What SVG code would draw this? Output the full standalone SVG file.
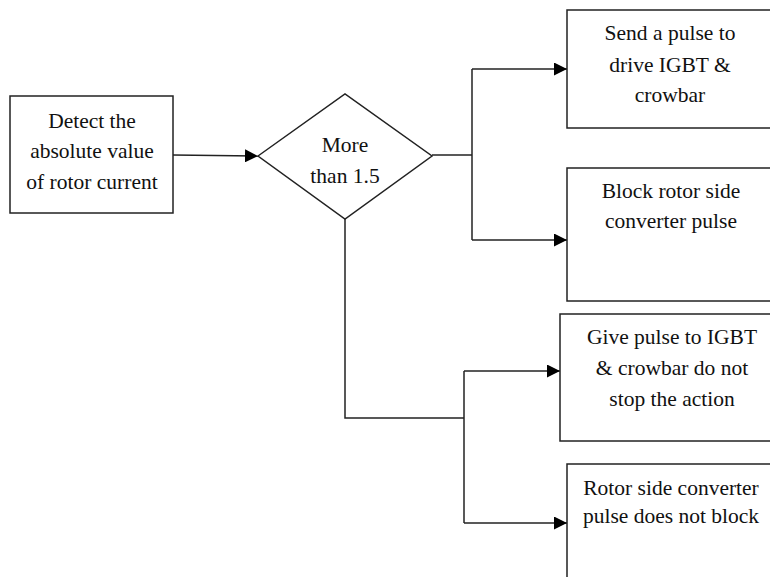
<svg xmlns="http://www.w3.org/2000/svg" width="770" height="577" viewBox="0 0 770 577">
<style>
.box{fill:#fff;stroke:#222;stroke-width:1.5}
.ln{fill:none;stroke:#222;stroke-width:1.5}
.arr{marker-end:url(#ah)}
text{font-family:"Liberation Serif","Times New Roman",serif;font-size:21.5px;fill:#111;text-anchor:middle}
</style>
<defs>
<marker id="ah" markerWidth="13" markerHeight="13" refX="13" refY="6.5" orient="auto" markerUnits="userSpaceOnUse">
<path d="M0,0 L13,6.5 L0,13 Z" fill="#000"/>
</marker>
</defs>
<rect width="770" height="577" fill="#fff"/>
<g id="connectors">
<path class="ln arr" d="M173,155 L258,156"/>
<path class="ln" d="M432,155 L472,155"/>
<path class="ln" d="M472,69 L472,240"/>
<path class="ln arr" d="M472,69 L567,69"/>
<path class="ln arr" d="M472,240 L567,240"/>
<path class="ln" d="M345,219 L345,418 L464,418"/>
<path class="ln" d="M464,371 L464,523"/>
<path class="ln arr" d="M464,371 L560,371"/>
<path class="ln arr" d="M464,523 L567,523"/>
</g>
<g id="detect">
<rect class="box" x="10" y="96" width="163" height="117"/>
<text x="92" y="128">Detect the</text>
<text x="92" y="158">absolute value</text>
<text x="92" y="189">of rotor current</text>
</g>
<g id="decision">
<path class="box" d="M258,156 L345,94 L432,156 L345,219 Z"/>
<text x="345" y="152">More</text>
<text x="345" y="183">than 1.5</text>
</g>
<g id="send">
<rect class="box" x="567" y="10" width="210" height="118"/>
<text x="670" y="40">Send a pulse to</text>
<text x="670" y="72">drive IGBT &amp;</text>
<text x="670" y="102">crowbar</text>
</g>
<g id="block">
<rect class="box" x="567" y="168" width="210" height="133"/>
<text x="671" y="198">Block rotor side</text>
<text x="671" y="228">converter pulse</text>
</g>
<g id="give">
<rect class="box" x="560" y="314" width="217" height="127"/>
<text x="672" y="344">Give pulse to IGBT</text>
<text x="672" y="375">&amp; crowbar do not</text>
<text x="672" y="406">stop the action</text>
</g>
<g id="noblock">
<rect class="box" x="567" y="464" width="210" height="130"/>
<text x="671" y="495">Rotor side converter</text>
<text x="671" y="523">pulse does not block</text>
</g>
</svg>
